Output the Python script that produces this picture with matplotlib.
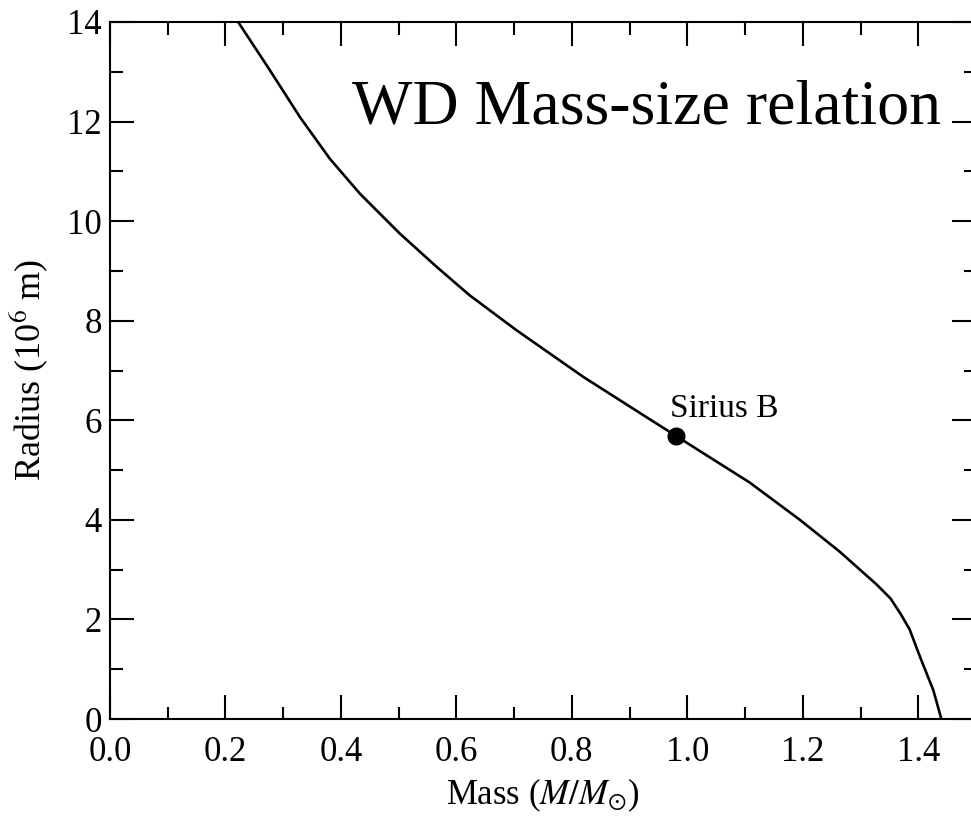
import matplotlib
matplotlib.use("Agg")
import matplotlib.pyplot as plt
from matplotlib.ticker import MultipleLocator

plt.rcParams['font.family'] = ['Liberation Serif', 'DejaVu Serif']
plt.rcParams['mathtext.fontset'] = 'stix'

# white dwarf mass-radius curve (mass in solar masses, radius in 10^6 m)
mass = [0.222, 0.277, 0.329, 0.381, 0.433, 0.502, 0.566, 0.623, 0.704, 0.820,
        0.935, 1.022, 1.108, 1.195, 1.264, 1.328, 1.352, 1.370, 1.385, 1.403,
        1.426, 1.440]
radius = [14.0, 13.03, 12.09, 11.25, 10.55, 9.75, 9.08, 8.51, 7.81, 6.87,
          6.02, 5.38, 4.75, 4.00, 3.36, 2.70, 2.42, 2.10, 1.80, 1.25,
          0.58, 0.0]

sirius_mass = 0.98
sirius_radius = 5.68

fig = plt.figure(figsize=(9.71, 8.19), dpi=100)
ax = fig.add_axes([110/971, 100/819, 866/971, 697/819])

ax.plot(mass, radius, color='black', lw=1.9)
ax.plot([sirius_mass], [sirius_radius], 'o', color='black', ms=12)
ax.text(0.97, 6.06, 'Sirius B', fontsize=24, ha='left', va='baseline')
ax.text(0.42, 11.97, 'WD Mass-size relation', fontsize=46, ha='left', va='baseline')

ax.set_xlim(0, 1.5)
ax.set_ylim(0, 14)
ax.xaxis.set_major_locator(MultipleLocator(0.2))
ax.xaxis.set_minor_locator(MultipleLocator(0.1))
ax.yaxis.set_major_locator(MultipleLocator(2))
ax.yaxis.set_minor_locator(MultipleLocator(1))
ax.xaxis.set_major_formatter(lambda v, p: f'{v:.1f}')
ax.yaxis.set_major_formatter(lambda v, p: f'{v:.0f}')

ax.tick_params(which='both', direction='in', top=True, right=True, width=1.5)
ax.tick_params(which='major', length=17, labelsize=25)
ax.tick_params(axis='x', which='major', pad=12)
ax.tick_params(axis='y', which='major', pad=6)
ax.tick_params(which='minor', length=9)
for s in ax.spines.values():
    s.set_linewidth(1.5)
ax.spines['right'].set_visible(False)

ax.set_xlabel(r'Mass ($M/M_{\odot}$)', fontsize=25, labelpad=6)
ax.set_ylabel(r'Radius (10$^6$ m)', fontsize=26, labelpad=12)

fig.savefig('out.png', dpi=100)
